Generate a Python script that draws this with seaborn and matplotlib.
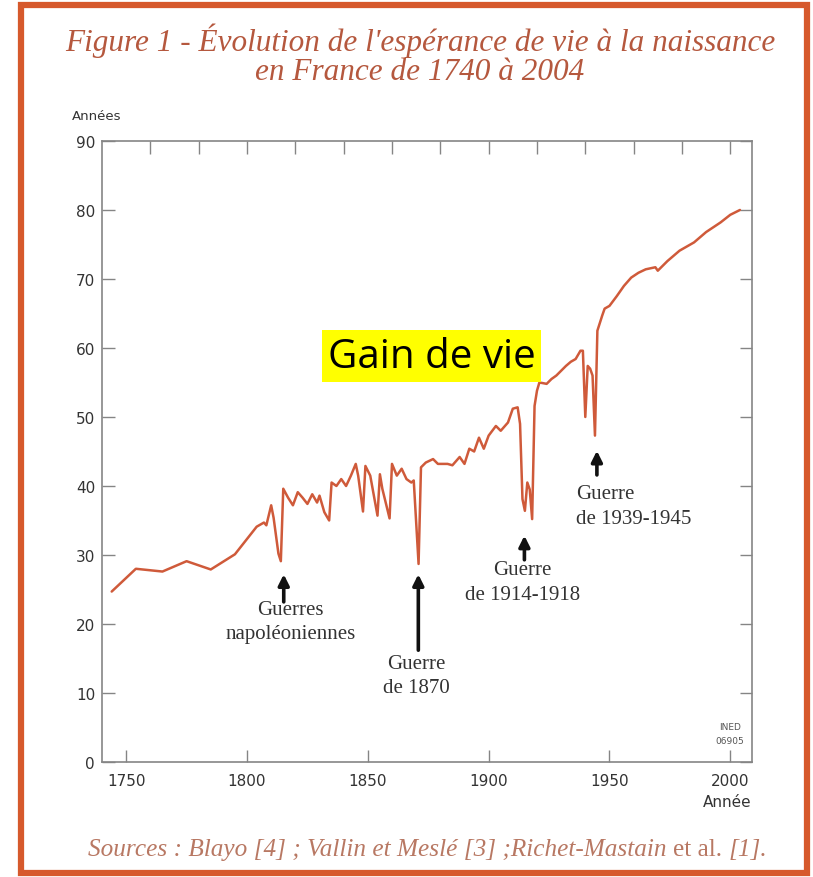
import matplotlib
matplotlib.use("Agg")
import matplotlib.pyplot as plt
import seaborn as sns
from matplotlib.patches import Rectangle

# life expectancy at birth, France
years = [1744, 1754, 1765, 1775, 1785, 1795, 1804, 1807, 1808, 1810,
         1811, 1813, 1814, 1815, 1817, 1819, 1821, 1823, 1825, 1827,
         1829, 1830, 1832, 1834, 1835, 1837, 1839, 1841, 1843, 1845,
         1846, 1848, 1849, 1851, 1854, 1855, 1856, 1859, 1860, 1862,
         1864, 1866, 1868, 1869, 1871, 1872, 1874, 1877, 1879, 1883,
         1885, 1888, 1890, 1892, 1894, 1896, 1898, 1900, 1903, 1905,
         1908, 1910, 1912, 1913, 1914, 1915, 1916, 1917, 1918, 1919,
         1920, 1921, 1924, 1926, 1928, 1930, 1932, 1934, 1936, 1938,
         1939, 1940, 1941, 1942, 1943, 1944, 1945, 1947, 1948, 1950,
         1953, 1956, 1959, 1962, 1965, 1969, 1970, 1974, 1979, 1985,
         1990, 1996, 2000, 2004]
life_exp = [24.7, 28.0, 27.6, 29.1, 27.9, 30.1, 34.1, 34.7, 34.3, 37.2,
            35.4, 30.2, 29.1, 39.6, 38.3, 37.2, 39.1, 38.3, 37.4, 38.8,
            37.6, 38.6, 36.2, 35.0, 40.5, 40.0, 41.0, 40.0, 41.5, 43.2,
            41.5, 36.3, 42.9, 41.5, 35.7, 41.7, 39.6, 35.3, 43.2, 41.5,
            42.5, 41.0, 40.5, 40.8, 28.7, 42.7, 43.4, 43.9, 43.2, 43.2,
            43.0, 44.2, 43.2, 45.4, 45.0, 47.0, 45.4, 47.3, 48.7, 48.0,
            49.2, 51.2, 51.4, 49.0, 38.1, 36.4, 40.5, 39.5, 35.2, 51.6,
            53.8, 55.0, 54.8, 55.5, 56.0, 56.7, 57.4, 58.0, 58.4, 59.6,
            59.6, 50.0, 57.4, 57.0, 56.0, 47.3, 62.5, 64.7, 65.7, 66.1,
            67.5, 69.0, 70.2, 70.9, 71.4, 71.7, 71.2, 72.6, 74.1, 75.3,
            76.8, 78.2, 79.3, 80.0]

x_ticks = [1750, 1800, 1850, 1900, 1950, 2000]
top_ticks = list(range(1760, 2001, 20))
y_ticks = list(range(0, 91, 10))

war_labels = ["Guerres\nnapoléoniennes", "Guerre\nde 1870",
              "Guerre\nde 1914-1918", "Guerre\nde 1939-1945"]

line_color = "#cf5a3a"
title_color = "#b5583e"
frame_color = "#d6592c"
axis_grey = "#858585"

sns.set_style("ticks")
plt.rcParams["font.family"] = ["DejaVu Sans"]

fig = plt.figure(figsize=(8.13, 8.78), dpi=100)
fig.patch.set_facecolor("white")
fig.add_artist(Rectangle((21 / 813, 1 - 874 / 878), 786 / 813, 868 / 878,
                         transform=fig.transFigure, fill=False,
                         edgecolor=frame_color, linewidth=4.5))

ax = fig.add_axes([0.1255, 0.131, 0.7995, 0.7073])
sns.lineplot(x=years, y=life_exp, color=line_color, linewidth=1.8, ax=ax)

ax.set_xlim(1740, 2009)
ax.set_ylim(0, 90)
ax.set_xticks(x_ticks)
ax.set_yticks(y_ticks)
ax.set_xticks(top_ticks, minor=True)
ax.xaxis.remove_overlapping_locs = False
ax.set_xlabel("")
ax.set_ylabel("")
for s in ax.spines.values():
    s.set_visible(True)
    s.set_color(axis_grey)
    s.set_linewidth(1.2)
ax.tick_params(axis="both", which="major", direction="in", length=9, width=1,
               color=axis_grey, labelsize=11, labelcolor="#333333")
ax.tick_params(axis="y", right=True, pad=5)
ax.tick_params(axis="x", which="major", top=False, pad=8)
ax.tick_params(axis="x", which="minor", bottom=False, top=True,
               direction="in", length=9, width=1, color=axis_grey)

# war annotations
arrow_kw = dict(arrowstyle="-|>", color="#111111", lw=2.6, mutation_scale=16,
                shrinkA=0, shrinkB=0)
ax.annotate("", xy=(1815.2, 27.2), xytext=(1815.2, 23.2), arrowprops=arrow_kw)
ax.annotate("", xy=(1870.9, 27.2), xytext=(1870.9, 16.2), arrowprops=arrow_kw)
ax.annotate("", xy=(1914.8, 32.8), xytext=(1914.8, 29.3), arrowprops=arrow_kw)
ax.annotate("", xy=(1944.8, 45.1), xytext=(1944.8, 41.6), arrowprops=arrow_kw)

serif = ["Liberation Serif", "DejaVu Serif"]
lab_kw = dict(va="top", family=serif, fontsize=15, color="#333333",
              linespacing=1.4)
ax.text(1818, 23.5, war_labels[0], ha="center", **lab_kw)
ax.text(1870, 15.7, war_labels[1], ha="center", **lab_kw)
ax.text(1914, 29.2, war_labels[2], ha="center", **lab_kw)
ax.text(1936.3, 40.3, war_labels[3], ha="left", **lab_kw)

ax.text(1876.3, 58.8, "Gain de vie", ha="center", va="center",
        family=["Open Sans", "DejaVu Sans"], fontsize=29, color="black",
        bbox=dict(boxstyle="square,pad=0.14", facecolor="#ffff00",
                  edgecolor="none"))

fig.text(730 / 813, 1 - 728 / 878, "INED", ha="center", va="center",
         fontsize=6.5, color="#555555")
fig.text(730 / 813, 1 - 742 / 878, "06905", ha="center", va="center",
         fontsize=6.5, color="#555555")

fig.text(72 / 813, 1 - 117 / 878, "Années", ha="left", va="center",
         fontsize=9.5, color="#333333")
fig.text(727 / 813, 1 - 803 / 878, "Année", ha="center", va="center",
         fontsize=11, color="#333333")

fig.text(420 / 813, 1 - 41 / 878,
         "Figure 1 - Évolution de l'espérance de vie à la naissance",
         ha="center", va="center", family=serif, style="italic",
         fontsize=22.5, color=title_color)
fig.text(420 / 813, 1 - 73 / 878, "en France de 1740 à 2004",
         ha="center", va="center", family=serif, style="italic",
         fontsize=22.5, color=title_color)

src_color = "#b87863"
t1 = fig.text(88 / 813, 1 - 850 / 878,
              "Sources : Blayo [4] ; Vallin et Meslé [3] ;Richet-Mastain ",
              ha="left", va="center", family=serif, style="italic",
              fontsize=18.2, color=src_color)
t2 = ax.annotate("et al. ", xy=(1, 0), xycoords=t1, ha="left", va="bottom",
                 family=serif, fontsize=18.2, color=src_color,
                 annotation_clip=False)
ax.annotate("[1].", xy=(1, 0), xycoords=t2, ha="left", va="bottom",
            family=serif, style="italic", fontsize=18.2, color=src_color,
            annotation_clip=False)

fig.savefig("out.png", dpi=100)
